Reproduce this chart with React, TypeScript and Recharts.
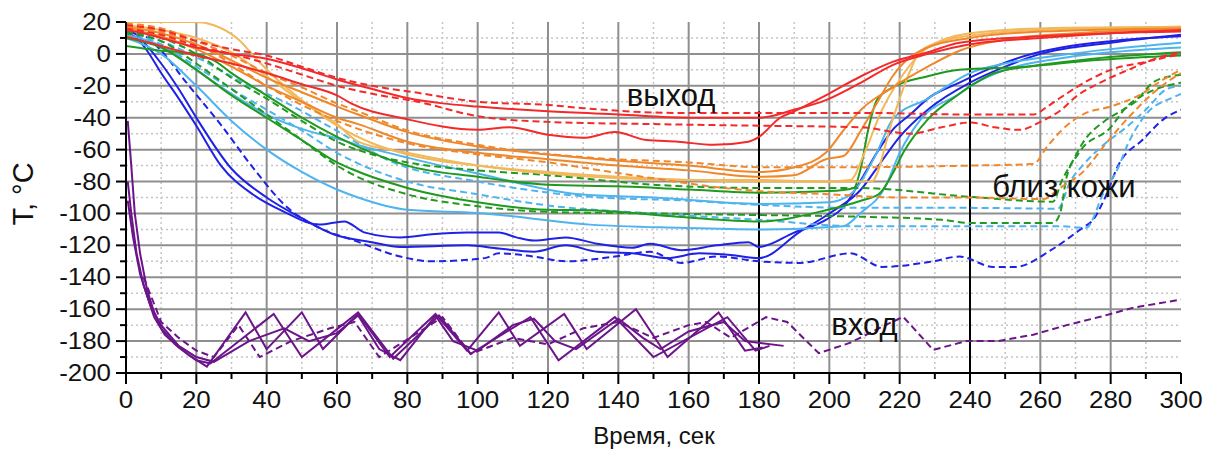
import React from "react";
import {
  LineChart,
  Line,
  XAxis,
  YAxis,
  CartesianGrid,
  ReferenceLine,
  ReferenceDot,
  Label,
} from "recharts";

type Pt = [number, number];

const xTickValues = [0, 10, 20, 30, 40, 50, 60, 70, 80, 90, 100, 110, 120, 130, 140, 150, 160, 170, 180, 190, 200, 210, 220, 230, 240, 250, 260, 270, 280, 290, 300];
const yTickValues = [-200, -190, -180, -170, -160, -150, -140, -130, -120, -110, -100, -90, -80, -70, -60, -50, -40, -30, -20, -10, 0, 10, 20];
const xMajorGrid = [20, 40, 60, 80, 100, 120, 140, 160, 200, 220, 260, 280];
const xMinorGrid = [10, 30, 50, 70, 90, 110, 130, 150, 170, 190, 210, 230, 250, 270, 290];
const yMajorGrid = [-180, -160, -140, -120, -100, -80, -60, -40, -20, 0];
const yMinorGrid = [-190, -170, -150, -130, -110, -90, -70, -50, -30, -10, 10];

// red - "выход"
const redSolidA: Pt[] = [[0, 15], [5, 13], [10, 10], [20, 4], [30, 0], [40, -3], [50, -9], [60, -16], [70, -22], [80, -27.6], [90, -31], [100, -33], [120, -36], [140, -38], [160, -40], [180, -40], [190, -35], [199, -29], [209, -18], [218, -7], [228, 0], [240, 6], [260, 10], [280, 13], [300, 15]];
const redSolidB: Pt[] = [[0, 11], [5, 8], [10, 5], [20, -1], [30, -6], [40, -12], [50, -19], [60, -26], [64, -31], [80, -41], [100, -47.6], [109, -46], [120, -50.7], [130, -52.6], [139, -49], [148, -54], [157, -55], [167, -57], [177, -55], [180, -52], [186, -40], [190, -36], [199, -26], [209, -14], [218, -5], [228, 1], [237, 7], [260, 11], [280, 13], [300, 14]];
const redDashA: Pt[] = [[0, 18], [10, 15], [20, 8], [30, 3], [40, -1], [50, -8], [60, -15], [70, -20], [83, -24.4], [100, -30], [120, -32], [130, -34], [157, -37], [180, -37], [210, -37], [240, -38], [258, -38], [262, -33], [266, -27], [275, -15], [280, -10], [290, -5], [300, 0]];
const redDashB: Pt[] = [[0, 16], [10, 12], [20, 5], [30, 0], [40, -6], [50, -13], [60, -20], [70, -25], [83, -30], [100, -39], [120, -42.6], [150, -44], [180, -45], [209, -46], [223, -50], [232, -46], [240, -43], [247, -46], [254, -47.6], [260, -42.6], [266, -35], [270, -27], [277, -18], [285, -10], [294, -2], [300, 1]];

// orange and tan
const orangeSolidA: Pt[] = [[0, 17], [10, 13], [20, 6], [30, -4], [40, -15], [50, -24], [60, -33], [66, -38], [80, -49], [100, -58], [120, -63], [140, -67], [160, -70], [180, -74], [190, -71], [199, -62], [204, -48], [209, -35], [218, -21], [228, -8], [237, 2], [250, 9], [270, 13], [300, 16]];
const orangeSolidB: Pt[] = [[0, 16], [10, 11], [20, 3], [30, -8], [40, -20], [50, -30], [60, -40], [66, -44], [80, -55], [100, -62], [120, -66], [140, -70], [160, -73], [180, -77], [190, -76], [199, -66], [204, -64], [209, -48], [214, -29], [218, -14], [223, -2], [228, 4], [240, 10], [260, 14], [300, 16]];
const orangeDashA: Pt[] = [[0, 19], [10, 16], [20, 8], [30, -1], [40, -12], [50, -21], [60, -31], [66, -36], [80, -48], [100, -57], [132, -65], [160, -68], [180, -71], [210, -71], [240, -70], [258, -69], [262, -58], [266, -48], [272, -38], [280, -33], [288, -26], [295, -16], [300, -10]];
const orangeDashB: Pt[] = [[0, 18], [10, 14], [20, 6], [30, -6], [40, -20], [50, -32], [60, -42], [66, -47], [80, -56], [100, -63], [120, -68], [132, -72], [150, -78], [170, -84], [180, -86], [200, -88], [220, -90], [240, -90], [261, -91], [265, -85], [273, -72], [278, -58], [285, -40], [294, -21], [300, -12]];
const tanSolidA: Pt[] = [[0, 20], [10, 20], [20, 20], [25, 18], [32, 9], [37, -3], [43, -16], [50, -29], [60, -45], [70, -56], [80, -63], [100, -70], [120, -74], [140, -77], [160, -79], [180, -80], [212, -80], [218, -41], [222, -16], [226, 2], [234, 9], [242, 12], [260, 15], [280, 16], [300, 17]];
const tanSolidB: Pt[] = [[0, 18], [10, 15], [20, 10], [30, 1], [40, -14], [50, -30], [60, -44], [66, -55], [80, -62], [100, -70], [120, -75], [140, -78], [160, -79], [180, -79], [198, -80], [206, -79], [210, -62], [215, -35], [220, -16], [228, 4], [240, 13], [260, 16], [300, 17]];

// green
const greenSolidA: Pt[] = [[0, 5], [10, 2], [20, 0], [25, -4], [30, -12], [40, -26], [50, -40], [60, -52], [70, -62], [80, -70], [100, -77], [120, -82], [140, -83], [160, -85], [180, -87], [200, -86], [207, -84], [209, -71], [211, -48], [213.5, -29], [218, -21], [228, -14], [237, -10], [256, -8], [275, -4], [300, -1]];
const greenSolidB: Pt[] = [[0, 10], [10, 4], [20, -10], [30, -26], [40, -40], [50, -54], [60, -68], [64, -72], [80, -84], [100, -93], [120, -97.7], [132, -98], [157, -102], [180, -105], [199, -98], [209, -92], [214, -88], [218, -75], [221, -62], [228, -41], [237, -25], [241, -19], [247, -12], [260, -7], [275, -3], [300, 1]];
const greenDashA: Pt[] = [[0, 14], [10, 10], [20, 0], [30, -15], [40, -28], [50, -42], [60, -55], [70, -63], [80, -68], [100, -73], [120, -76], [150, -82], [180, -84], [208, -84], [240, -89.6], [263.6, -92.6], [266, -80], [269.5, -66], [272, -56], [279, -41], [283.5, -35], [287, -30], [292, -18], [297, -14], [300, -13]];
const greenDashB: Pt[] = [[0, 13], [10, 8], [20, -6], [30, -22], [40, -38], [50, -54], [60, -70], [64, -75], [80, -88], [100, -95.5], [120, -99], [150, -100], [180, -101], [208, -102], [232, -104], [240, -106], [263.6, -106], [265.6, -100], [267.5, -77], [271, -62], [280, -46], [284.6, -33], [290, -25], [300, -18]];

// light blue
const lightSolidA: Pt[] = [[0, 12], [10, 5], [20, -10], [30, -25], [40, -38], [50, -47], [60, -53], [66, -57], [80, -65], [100, -75], [129, -88], [150, -90], [180, -94], [200, -93], [206, -88], [213.5, -62], [218, -41], [228, -28], [240, -12], [250, -6], [265, -1], [280, 3], [300, 7]];
const lightSolidB: Pt[] = [[0, 10], [10, 0], [20, -20], [30, -42], [40, -60], [50, -74], [60, -85], [66, -90], [80, -97.7], [100, -99.7], [132, -107], [157, -109], [180, -110], [204, -108], [208.7, -100], [216, -83], [220, -62], [226, -41], [237, -25], [241, -19], [250, -10], [265, -3], [280, 1], [300, 4]];
const lightDashA: Pt[] = [[0, 15], [10, 8], [20, -2], [35, -20], [45, -30], [59, -47], [76, -68], [100, -80], [132, -89.6], [160, -92], [180, -94.6], [208, -96.5], [240, -96.5], [265, -97], [268.5, -80], [272, -70], [278, -57], [285, -45], [290, -35], [296, -22], [300, -20]];
const lightDashB: Pt[] = [[0, 14], [10, 6], [20, -8], [30, -22], [40, -35], [50, -48], [60, -62], [80, -80], [100, -88], [120, -95], [150, -100], [180, -104], [208, -108], [240, -108], [265, -108], [273, -109], [278, -87], [282, -72], [285, -56], [290, -38], [298, -27], [300, -25]];

// blue
const blueSolidA: Pt[] = [[0, 13], [3, 10], [6, 2], [10, -12], [15, -28], [20, -45], [27, -70], [36, -88], [45, -99], [55, -107], [62, -105], [68, -112], [78, -115], [87, -113], [97, -112], [106, -112], [111, -115], [116, -117], [125, -115], [134, -119], [144, -121.5], [149, -119], [158, -123], [168, -120], [177, -118], [180, -121], [190, -112], [199, -104], [204, -96], [209, -79], [213.5, -62], [218, -47.6], [223, -38], [228, -28], [237, -18], [247, -8], [256, -1], [266, 4], [280, 8], [300, 11]];
const blueSolidB: Pt[] = [[0, 15], [3, 12], [6, 5], [10, -6], [15, -22], [20, -40], [30, -72], [40, -90], [50, -103], [59, -113], [70, -118], [78, -121], [97, -120], [106, -122], [116, -124], [125, -120], [134, -124], [144, -125], [154, -128], [163, -125], [172, -126], [180, -128], [191.6, -111.5], [200, -100], [209, -85], [214, -70], [220, -52], [228, -35], [240, -18], [250, -8], [260, 0], [280, 7], [300, 12]];
const blueDash: Pt[] = [[0, 16], [5, 12], [10, 2], [17, -17.5], [27, -44.5], [36, -71], [46, -96.5], [55, -109], [65, -117], [78, -127], [87, -130], [102, -128], [106, -125], [116, -127], [125, -130], [139, -127], [149, -124], [158, -131], [168, -127], [180, -130], [191.6, -131], [206, -125], [215, -133.5], [229.5, -130], [237, -127], [246.6, -133.5], [253, -133.5], [263, -123], [272, -109], [275, -104], [278, -92], [282.6, -68], [289, -54], [295, -41], [300, -35]];

// purple - "вход"
const purpleSolidA: Pt[] = [[0.5, -42], [1.5, -70], [2.5, -100], [4, -125], [6, -148], [8, -162], [10, -172], [14, -182], [18, -189], [23, -196], [34, -162], [40, -185], [50, -162], [56, -185], [66, -163], [75, -190], [88, -163], [97, -186], [106, -162], [112, -183], [124.6, -163], [131, -185], [145, -160], [154, -190], [168.5, -162], [176, -186], [181, -184]];
const purpleSolidB: Pt[] = [[0.5, -80], [1.5, -100], [3, -125], [5, -145], [8, -165], [11, -176], [15, -184], [20, -192], [24, -194], [42, -163], [50, -190], [66, -162], [76, -191], [89, -164], [98, -188], [115, -165], [123, -192], [139, -165], [150, -190], [171, -165], [179, -186], [183, -183]];
const purpleSolidC: Pt[] = [[0.5, -92], [2, -115], [4, -138], [7, -158], [10, -170], [15, -183], [20, -190], [25, -193], [35, -180], [45, -172], [52, -180], [60, -175], [66, -164], [72, -185], [78, -192], [88, -164], [93, -180], [100, -186], [110, -170], [116, -166], [122, -180], [128, -185], [140, -166], [147, -178], [152, -185], [160, -174], [170, -168], [176, -180], [187, -183]];
const purpleDash: Pt[] = [[5, -140], [10, -168], [15, -178], [20, -186], [25, -190], [32, -170], [38, -190], [47, -180], [58, -172], [65, -168], [72, -190], [85, -172], [90, -165], [98, -188], [110, -178], [120, -182], [130, -172], [140, -168], [150, -178], [160, -170], [165, -168], [172, -178], [182, -165], [188, -168], [197, -187.6], [206, -181], [215, -171], [221, -164.8], [224, -172], [229.5, -185.5], [239, -180], [248, -180], [258, -176], [267.5, -170], [277, -164.8], [286.5, -159], [300, -154]];

const RED = "#f42a2a";
const ORANGE = "#f0872a";
const TAN = "#f2b85a";
const GREEN = "#1f9a1f";
const LIGHTBLUE = "#4db4ef";
const BLUE = "#1f22e6";
const PURPLE = "#6c1489";

const series = [
  { id: "purpleDash", pts: purpleDash, color: PURPLE, dashed: true },
  { id: "purpleSolidC", pts: purpleSolidC, color: PURPLE, dashed: false },
  { id: "purpleSolidB", pts: purpleSolidB, color: PURPLE, dashed: false },
  { id: "purpleSolidA", pts: purpleSolidA, color: PURPLE, dashed: false },
  { id: "blueDash", pts: blueDash, color: BLUE, dashed: true },
  { id: "blueSolidB", pts: blueSolidB, color: BLUE, dashed: false },
  { id: "blueSolidA", pts: blueSolidA, color: BLUE, dashed: false },
  { id: "lightDashB", pts: lightDashB, color: LIGHTBLUE, dashed: true },
  { id: "lightDashA", pts: lightDashA, color: LIGHTBLUE, dashed: true },
  { id: "lightSolidB", pts: lightSolidB, color: LIGHTBLUE, dashed: false },
  { id: "lightSolidA", pts: lightSolidA, color: LIGHTBLUE, dashed: false },
  { id: "greenDashB", pts: greenDashB, color: GREEN, dashed: true },
  { id: "greenDashA", pts: greenDashA, color: GREEN, dashed: true },
  { id: "greenSolidB", pts: greenSolidB, color: GREEN, dashed: false },
  { id: "greenSolidA", pts: greenSolidA, color: GREEN, dashed: false },
  { id: "tanSolidB", pts: tanSolidB, color: TAN, dashed: false },
  { id: "tanSolidA", pts: tanSolidA, color: TAN, dashed: false },
  { id: "orangeDashB", pts: orangeDashB, color: ORANGE, dashed: true },
  { id: "orangeDashA", pts: orangeDashA, color: ORANGE, dashed: true },
  { id: "orangeSolidB", pts: orangeSolidB, color: ORANGE, dashed: false },
  { id: "orangeSolidA", pts: orangeSolidA, color: ORANGE, dashed: false },
  { id: "redDashB", pts: redDashB, color: RED, dashed: true },
  { id: "redDashA", pts: redDashA, color: RED, dashed: true },
  { id: "redSolidB", pts: redSolidB, color: RED, dashed: false },
  { id: "redSolidA", pts: redSolidA, color: RED, dashed: false },
];

const FONT = "'Liberation Sans', Arial, sans-serif";

const BottomTick = ({ x, y, payload }: any) => {
  const v = payload.value;
  const major = v % 20 === 0;
  return (
    <g>
      <line x1={x} y1={y} x2={x} y2={y + (major ? 11 : 6)} stroke="#000" strokeWidth={2} />
      {major && (
        <text transform={`translate(${x},${y + 35}) scale(1.08,1)`} textAnchor="middle" fontSize={24} fontFamily={FONT} fill="#111">
          {v}
        </text>
      )}
    </g>
  );
};

const TopTick = ({ x, y, payload }: any) => {
  const major = payload.value % 20 === 0;
  return <line x1={x} y1={y} x2={x} y2={y - (major ? 10 : 6)} stroke="#000" strokeWidth={2} />;
};

const LeftTick = ({ x, y, payload }: any) => {
  const v = payload.value;
  const major = v % 20 === 0;
  return (
    <g>
      <line x1={x} y1={y} x2={x - (major ? 10 : 6)} y2={y} stroke="#000" strokeWidth={2} />
      {major && (
        <text transform={`translate(${x - 15},${y + 8}) scale(1.08,1)`} textAnchor="end" fontSize={24} fontFamily={FONT} fill="#111">
          {v}
        </text>
      )}
    </g>
  );
};

const RightTick = ({ x, y, payload }: any) => {
  const major = payload.value % 20 === 0;
  return <line x1={x} y1={y} x2={x + (major ? 8 : 5)} y2={y} stroke="#000" strokeWidth={2} />;
};

const noteLabel = (text: string) => ({
  value: text,
  position: "center" as const,
  fontSize: 31,
  fontFamily: FONT,
  fill: "#111",
});

export default function App() {
  return (
    <div style={{ position: "absolute", left: 0, top: 0, background: "#fff" }}>
      <LineChart width={1206} height={451} margin={{ top: 22, right: 25, bottom: 0, left: 0 }}>
        <CartesianGrid
          horizontalValues={yMinorGrid}
          verticalValues={xMinorGrid}
          stroke="#c4c4c4"
          strokeWidth={1.5}
          strokeDasharray="2 3"
        />
        <CartesianGrid
          horizontalValues={yMajorGrid}
          verticalValues={xMajorGrid}
          stroke="#8f8f8f"
          strokeWidth={2}
        />
        <ReferenceLine segment={[{ x: 180, y: 20 }, { x: 180, y: -36 }]} stroke="#8f8f8f" strokeWidth={2} />
        <ReferenceLine segment={[{ x: 180, y: -36 }, { x: 180, y: -200 }]} stroke="#000" strokeWidth={2} />
        <ReferenceLine x={240} stroke="#000" strokeWidth={2} />
        <XAxis
          type="number"
          dataKey="t"
          domain={[0, 300]}
          ticks={xTickValues}
          interval={0}
          height={78}
          tickSize={0}
          tickMargin={0}
          tick={<BottomTick />}
          axisLine={{ stroke: "#000", strokeWidth: 2 }}
          tickLine={false}
          allowDataOverflow
        >
          <Label
            content={() => (
              <text x={654} y={444} textAnchor="middle" fontSize={24} fontFamily={FONT} fill="#111">
                Время, сек
              </text>
            )}
          />
        </XAxis>
        <XAxis
          xAxisId="top"
          orientation="top"
          type="number"
          domain={[0, 300]}
          ticks={xTickValues}
          interval={0}
          height={0}
          tickSize={0}
          tickMargin={0}
          tick={<TopTick />}
          axisLine={{ stroke: "#000", strokeWidth: 2 }}
          tickLine={false}
        />
        <YAxis
          type="number"
          domain={[-200, 20]}
          ticks={yTickValues}
          interval={0}
          width={126}
          tickSize={0}
          tickMargin={0}
          tick={<LeftTick />}
          axisLine={{ stroke: "#000", strokeWidth: 2 }}
          tickLine={false}
          allowDataOverflow
        >
          <Label
            content={() => (
              <text transform="translate(33,194) rotate(-90)" textAnchor="middle" fontSize={29} fontFamily={FONT} fill="#111">
                T, °C
              </text>
            )}
          />
        </YAxis>
        <YAxis
          yAxisId="right"
          orientation="right"
          type="number"
          domain={[-200, 20]}
          ticks={yTickValues}
          interval={0}
          width={0}
          tickSize={0}
          tickMargin={0}
          tick={<RightTick />}
          axisLine={{ stroke: "#000", strokeWidth: 2 }}
          tickLine={false}
        />
        {series.map((s) => (
          <Line
            key={s.id}
            data={s.pts.map(([t, v]) => ({ t, v }))}
            dataKey="v"
            type={s.color === PURPLE ? "linear" : "monotone"}
            stroke={s.color}
            strokeWidth={2}
            strokeDasharray={s.dashed ? "7 4" : undefined}
            dot={false}
            activeDot={false}
            isAnimationActive={false}
          />
        ))}
        <ReferenceDot x={155} y={-26} r={0} fill="none" stroke="none" label={noteLabel("выход")} />
        <ReferenceDot x={266.7} y={-82.7} r={0} fill="none" stroke="none" label={noteLabel("близ кожи")} />
        <ReferenceDot x={210} y={-169} r={0} fill="none" stroke="none" label={noteLabel("вход")} />
      </LineChart>
    </div>
  );
}
